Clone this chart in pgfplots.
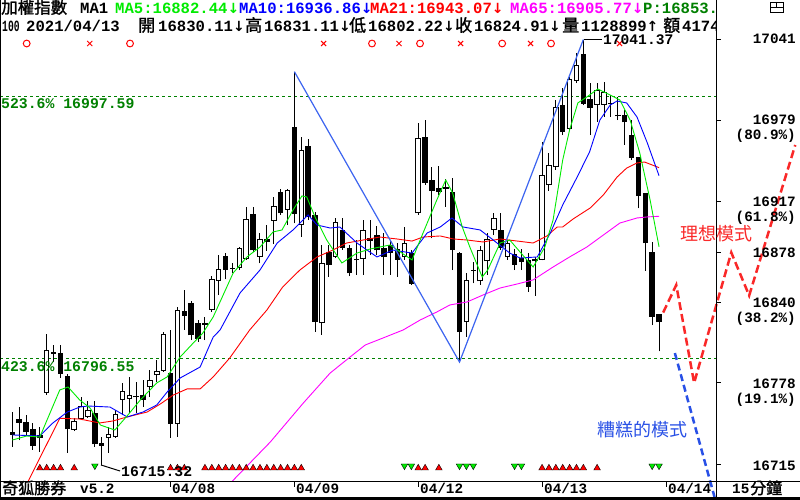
\documentclass[border=0pt]{standalone}
\usepackage{pgfplots}
\usepackage{pgfplotstable}
\pgfplotsset{compat=1.18}
\usepackage{fontspec}
\setmainfont{Liberation Mono}
\newfontfamily\cjk{Noto Sans CJK TC}
\newfontfamily\cjkb{Noto Sans CJK TC}[FakeBold=1.5]
\newfontfamily\arr{DejaVu Sans}

\definecolor{ma5}{RGB}{0,235,0}
\definecolor{ma10}{RGB}{0,0,255}
\definecolor{ma21}{RGB}{255,0,0}
\definecolor{ma65}{RGB}{255,0,255}
\definecolor{fib}{RGB}{0,128,0}
\definecolor{zig}{RGB}{60,100,240}
\definecolor{ideal}{RGB}{250,40,40}
\definecolor{bad}{RGB}{40,80,230}

\newcommand\hdr{\fontsize{15.6}{16}\selectfont\bfseries}
\newcommand\rl{\fontsize{14.3}{15}\selectfont\bfseries}
\newcommand\ar[1]{{\arr\fontsize{14}{16}\selectfont #1}}

% 15-minute candles, index 0..94
\pgfplotstableread{
i o h l c
0 16738.8 16755.9 16729.1 16739.6
1 16750.3 16759.8 16734.2 16748.0
2 16747.3 16753.4 16737.3 16740.5
3 16741.9 16747.3 16726.6 16729.9
4 16735.8 16744.2 16725.0 16737.3
5 16771.0 16815.5 16768.8 16803.2
6 16801.7 16807.1 16794.0 16800.9
7 16800.2 16807.1 16781.8 16785.6
8 16782.8 16784.8 16724.3 16742.7
9 16742.4 16751.1 16741.1 16748.3
10 16750.9 16767.4 16749.6 16759.8
11 16752.1 16764.4 16751.1 16756.7
12 16754.7 16764.4 16728.9 16731.2
13 16730.2 16736.8 16715.32 16731.7
14 16736.3 16744.4 16724.3 16738.6
15 16736.8 16757.3 16735.8 16754.0
16 16765.5 16778.0 16753.4 16771.3
17 16766.2 16782.8 16754.7 16768.7
18 16767.4 16778.9 16754.7 16767.6
19 16768.0 16780.3 16759.8 16765.5
20 16775.6 16787.9 16767.4 16779.5
21 16784.1 16795.6 16778.7 16787.1
22 16787.9 16817.1 16786.4 16814.8
23 16785.4 16818.6 16735.8 16747.0
24 16747.0 16836.5 16736.8 16833.9
25 16832.6 16849.3 16818.6 16830.1
26 16839.1 16840.8 16810.9 16814.8
27 16823.2 16826.3 16809.4 16812.2
28 16823.2 16828.8 16810.9 16823.4
29 16834.5 16860.0 16832.4 16857.5
30 16856.9 16876.1 16845.4 16864.6
31 16875.3 16877.9 16857.5 16865.1
32 16865.9 16869.7 16862.5 16866.1
33 16866.4 16882.5 16864.6 16881.3
34 16873.6 16913.2 16872.3 16903.5
35 16906.8 16913.2 16878.4 16880.0
36 16875.3 16892.7 16869.7 16888.1
37 16888.1 16899.1 16879.4 16886.8
38 16902.9 16920.8 16884.5 16913.2
39 16924.2 16926.5 16906.8 16908.5
40 16911.1 16926.5 16899.1 16925.9
41 16974.0 17016.7 16900.4 16908.1
42 16899.7 16966.8 16890.1 16955.9
43 16959.2 16964.8 16902.9 16905.5
44 16906.0 16909.1 16817.3 16825.0
45 16824.2 16883.8 16814.8 16869.2
46 16878.2 16883.8 16859.5 16868.9
47 16874.8 16904.3 16873.8 16901.2
48 16894.7 16904.3 16880.0 16882.0
49 16880.7 16883.8 16860.0 16862.5
50 16872.3 16887.6 16860.8 16872.5
51 16873.6 16902.9 16860.8 16894.7
52 16887.6 16902.9 16876.1 16888.9
53 16890.9 16898.4 16876.1 16880.0
54 16881.3 16892.7 16860.8 16874.8
55 16883.0 16887.6 16860.8 16877.9
56 16880.5 16885.1 16859.5 16872.8
57 16874.8 16897.8 16872.3 16885.1
58 16876.9 16880.0 16853.1 16854.4
59 16908.5 16977.1 16906.8 16965.6
60 16966.4 16979.6 16929.8 16931.6
61 16932.9 16943.8 16888.9 16925.9
62 16927.3 16944.4 16922.1 16924.7
63 16927.3 16934.2 16913.2 16927.5
64 16924.2 16935.4 16864.6 16880.7
65 16876.9 16878.6 16794.0 16817.3
66 16825.0 16862.3 16813.5 16856.2
67 16864.1 16871.0 16854.4 16864.3
68 16856.2 16883.0 16853.1 16879.2
69 16871.7 16893.2 16860.8 16888.1
70 16895.8 16908.1 16891.4 16904.3
71 16894.7 16908.1 16880.0 16882.0
72 16874.8 16887.6 16872.3 16885.1
73 16876.1 16880.5 16864.6 16868.9
74 16873.6 16880.5 16864.6 16871.0
75 16871.7 16877.4 16848.0 16851.8
76 16871.7 16874.6 16844.7 16872.5
77 16872.8 16963.0 16872.0 16936.7
78 16930.3 16954.1 16925.4 16944.6
79 16943.8 16995.0 16941.3 16989.4
80 16991.1 17003.9 16968.1 16970.7
81 16973.3 17012.8 16972.0 17010.3
82 17009.8 17030.8 17008.0 17021.6
83 17029.5 17041.37 16991.1 16992.4
84 16995.0 17007.8 16968.1 16989.4
85 16991.7 17007.8 16978.3 17002.6
86 16991.7 17009.0 16982.2 17000.6
87 16992.4 16998.8 16982.2 16992.6
88 16982.9 16997.5 16979.6 16983.1
89 16982.7 16987.3 16960.5 16978.3
90 16968.1 16979.6 16948.9 16951.0
91 16950.7 16951.5 16911.9 16921.6
92 16922.9 16923.4 16864.1 16885.5
93 16878.2 16886.3 16822.4 16829.3
94 16830.11 16831.11 16802.22 16824.91
}\candles

\begin{document}
\begin{tikzpicture}[x=1pt,y=1pt]
\fill[white] (0,0) rectangle (800,500);
\begin{axis}[at={(0pt,19pt)}, anchor=south west, scale only axis,
  width=716pt, height=481pt,
  xmin=-1.788, xmax=102.28, ymin=16702.79, ymax=17071.67,
  hide axis, clip=false]

% Fibonacci levels
\addplot[fib, line width=1pt, dash pattern=on 3pt off 3pt, mark=none]
  coordinates {(-1.788,16997.59) (102.28,16997.59)};
\addplot[fib, line width=1pt, dash pattern=on 3pt off 3pt, mark=none]
  coordinates {(-1.788,16796.55) (102.28,16796.55)};

% wicks
\addplot[draw=none, mark=none, error bars/.cd, y dir=plus, y explicit,
  error mark=none, error bar style={draw=black, solid, line width=1pt}]
  table[x=i, y=l, y error plus expr={\thisrow{h}-\thisrow{l}}] {\candles};
% bodies (outline / black)
\addplot[draw=none, mark=none, error bars/.cd, y dir=plus, y explicit,
  error mark=none, error bar style={draw=black, solid, line width=5.5pt}]
  table[x=i, y expr={min(\thisrow{o},\thisrow{c})-0.4},
        y error plus expr={abs(\thisrow{c}-\thisrow{o})+0.8}] {\candles};
% white bodies of rising candles
\addplot[draw=none, mark=none,
  restrict expr to domain={\thisrow{c}-\thisrow{o}}{2:1000},
  error bars/.cd, y dir=plus, y explicit,
  error mark=none, error bar style={draw=white, solid, line width=3.5pt}]
  table[x=i, y expr={\thisrow{o}+0.37},
        y error plus expr={\thisrow{c}-\thisrow{o}-0.74}] {\candles};

% MA65
\addplot[ma65, line width=0.9pt, mark=none] coordinates {
(32.0,16702.8) (37.5,16732.7) (42.3,16762.6) (46.2,16785.6) (49.1,16797.9)
(51.3,16807.1) (53.9,16812.5) (56.8,16818.6) (59.3,16826.3) (61.7,16832.4)
(63.6,16837.8) (66.1,16840.1) (68.4,16845.4) (70.9,16850.8) (73.4,16853.9)
(75.7,16857.0) (78.6,16866.9) (81.0,16874.6) (83.5,16882.2) (85.9,16891.4)
(88.3,16900.6) (90.8,16904.5) (92.3,16905.3) (94.0,16905.8)};
% MA21
\addplot[ma21, line width=0.9pt, mark=none] coordinates {
(2.33,16702.8) (6.9,16750.9) (9.8,16750.3) (12.7,16747.3) (14.6,16748.8)
(16.7,16751.9) (19.6,16755.7) (21.5,16761.8) (23.4,16768.7) (25.4,16773.4)
(27.3,16773.4) (29.2,16782.6) (31.6,16797.1) (34.5,16818.6) (37.0,16833.9)
(39.3,16851.6) (41.8,16864.6) (44.3,16874.6) (46.6,16879.9) (48.6,16885.3)
(51.0,16887.6) (53.4,16889.9) (55.9,16888.4) (58.1,16886.8) (59.7,16889.9)
(62.2,16890.7) (64.1,16888.4) (66.1,16887.6) (68.4,16886.1) (70.9,16888.4)
(73.4,16886.8) (75.7,16885.3) (77.7,16890.7) (79.2,16897.6) (80.0,16897.6)
(81.5,16903.7) (84.0,16912.2) (85.9,16922.1) (87.9,16935.9) (89.3,16942.8)
(90.8,16946.7) (91.9,16947.4) (94.0,16943.1)};
% MA10
\addplot[ma10, line width=0.9pt, mark=none] coordinates {
(0,16738.1) (4.0,16737.3) (5.9,16747.3) (8.0,16755.7) (9.8,16759.5)
(11.0,16760.3) (14.2,16759.5) (16.7,16751.9) (19.0,16755.7) (21.0,16761.1)
(22.5,16771.0) (24.4,16781.8) (27.3,16790.2) (29.2,16813.2) (30.2,16818.6)
(33.1,16847.0) (36.0,16864.6) (38.5,16885.3) (40.8,16895.3) (43.0,16906.8)
(44.3,16899.1) (46.2,16896.8) (47.6,16897.6) (50.1,16885.3) (53.0,16874.6)
(55.3,16879.9) (58.1,16877.6) (60.3,16893.0) (62.2,16897.6) (63.9,16904.5)
(65.5,16897.6) (68.0,16895.3) (69.9,16887.6) (72.3,16877.6) (73.8,16873.8)
(76.3,16874.6) (78.2,16893.0) (80.0,16914.5) (82.1,16935.9) (83.9,16955.1)
(85.4,16979.6) (86.9,16991.1) (87.9,16994.2) (89.3,16992.7) (90.8,16981.9)
(92.3,16962.0) (94.0,16936.9)};
% MA5
\addplot[ma5, line width=0.9pt, mark=none] coordinates {
(0,16734.2) (2.1,16737.3) (4.0,16736.5) (6.9,16772.6) (8.1,16774.9)
(9.8,16764.9) (11.3,16758.8) (12.8,16745.7) (14.9,16741.9) (16.8,16753.4)
(18.6,16764.9) (21.0,16778.0) (22.5,16782.6) (24.4,16797.9) (26.3,16808.6)
(27.7,16816.3) (29.2,16828.6) (32.1,16862.3) (34.1,16874.6) (36.0,16882.2)
(37.9,16893.8) (39.2,16895.3) (40.8,16910.6) (42.1,16921.4) (42.8,16920.6)
(44.0,16905.3) (45.7,16887.6) (47.9,16870.0) (50.1,16877.6) (52.0,16880.7)
(54.9,16883.8) (58.1,16872.3) (59.7,16893.0) (61.7,16918.3) (63.0,16933.6)
(64.0,16923.7) (65.4,16897.6) (66.5,16882.2) (68.3,16859.2) (69.1,16864.6)
(70.9,16885.3) (72.3,16887.6) (74.8,16872.3) (75.7,16866.9) (77.4,16882.2)
(78.6,16903.0) (80.0,16949.0) (81.0,16972.0) (82.2,16992.7) (83.5,16997.3)
(85.1,17003.4) (86.9,16998.8) (88.3,16995.0) (89.8,16979.6) (91.2,16954.3)
(92.7,16918.3) (94.0,16882.4)};

% wave lines
\addplot[zig, line width=1.2pt, mark=none] coordinates {
(41,17016.7) (65,16794.0) (83,17041.37)};
\addplot[ideal, line width=2.5pt, dash pattern=on 8pt off 4pt, mark=none] coordinates {
(94.6,16832.0) (96.5,16853.1) (99.1,16778.0) (104.5,16878.0) (107.1,16845.0) (113.8,16960.5)};
\addplot[bad, line width=2.5pt, dash pattern=on 7pt off 4pt, mark=none] coordinates {
(96.3,16800.9) (102.1,16689.8)};

% signal markers
\addplot[only marks, mark=o, mark size=3.4pt, ma21, mark options={line width=1pt}] coordinates {
(2.09,17038.3) (17.11,17038.3) (52.28,17038.3) (59.26,17038.3) (71.2,17038.3) (78.3,17038.3)};
\addplot[only marks, mark=x, mark size=3.6pt, ma21, mark options={line width=1pt}] coordinates {
(11.26,17038.3) (45.25,17038.3) (56.2,17038.3) (65.16,17038.3) (75.33,17038.3) (88.26,17038.3)};
\addplot[only marks, mark=triangle*, mark size=3.8pt, mark options={fill=red, draw=none}] coordinates {
(4,16712.7) (5,16712.7) (6,16712.7) (7,16712.7) (9,16712.7)
(23,16712.7) (24,16712.7) (25,16712.7)
(28,16712.7) (29,16712.7) (30,16712.7) (31,16712.7) (32,16712.7) (33,16712.7)
(34,16712.7) (35,16712.7) (36,16712.7) (37,16712.7) (38,16712.7) (39,16712.7)
(40,16712.7) (41,16712.7) (42,16712.7)
(59,16712.7) (60,16712.7) (62,16712.7)
(77,16712.7) (78,16712.7) (79,16712.7) (80,16712.7) (81,16712.7) (82,16712.7) (83,16712.7)
(85,16712.7)};
\addplot[only marks, mark=triangle*, mark size=3.8pt, mark options={fill=ma5, draw=none, rotate=180}] coordinates {
(12,16714.4) (57,16714.4) (58,16714.4) (65,16714.4) (66,16714.4) (67,16714.4)
(73,16714.4) (74,16714.4) (93,16714.4) (94,16714.4)};
\end{axis}

% frame and labels, in screen pixels (y downwards)
\begin{scope}[yshift=500pt, y=-1pt]
\draw[line width=1pt] (0.5,0) -- (0.5,500);
\draw[line width=1pt] (716,0) -- (716,500);
\draw[line width=1pt] (0,481.5) -- (800,481.5);
\fill (0,497.5) rectangle (800,500);
\draw[line width=0.8pt] (770,2) rectangle (783,12) (770,7) -- (783,7) (776.5,2) -- (776.5,7);
\foreach \yy in {39.3,120.7,202,253,303,383,465} \draw[line width=1pt] (716,\yy) -- (721,\yy);
\foreach \xx in {170.5,294.4,418.3,542.1,666} \draw[line width=1pt] (\xx,482) -- (\xx,487);

% header
\node[anchor=base west, inner sep=0] at (1,13.5) {\cjkb\fontsize{16.5}{17}\selectfont 加權指數};
\node[anchor=base west, inner sep=0] at (80,13.5) {\hdr MA1};
\node[anchor=base west, inner sep=0, text=ma5] at (115,13.5) {\hdr MA5:16882.44\ar{↓}};
\node[anchor=base west, inner sep=0, text=ma10] at (239,13.5) {\hdr MA10:16936.86\ar{↓}};
\node[anchor=base west, inner sep=0, text=ma21] at (370,13.5) {\hdr MA21:16943.07\ar{↓}};
\node[anchor=base west, inner sep=0, text=ma65] at (510,13.5) {\hdr MA65:16905.77\ar{↓}};
\node[anchor=base west, inner sep=0] at (2,31.5) {\scalebox{0.62}[1]{\hdr 100}};
\node[anchor=base west, inner sep=0] at (26,31.5) {\hdr 2021/04/13};
\node[anchor=base west, inner sep=0] at (138,31.5) {\cjkb\fontsize{17}{17}\selectfont 開};
\node[anchor=base west, inner sep=0] at (158,31.5) {\hdr 16830.11\ar{↓}};
\node[anchor=base west, inner sep=0] at (245,31.5) {\cjkb\fontsize{17}{17}\selectfont 高};
\node[anchor=base west, inner sep=0] at (264,31.5) {\hdr 16831.11\ar{↓}};
\node[anchor=base west, inner sep=0] at (349,31.5) {\cjkb\fontsize{17}{17}\selectfont 低};
\node[anchor=base west, inner sep=0] at (368,31.5) {\hdr 16802.22\ar{↓}};
\node[anchor=base west, inner sep=0] at (455,31.5) {\cjkb\fontsize{17}{17}\selectfont 收};
\node[anchor=base west, inner sep=0] at (474,31.5) {\hdr 16824.91\ar{↓}};
\node[anchor=base west, inner sep=0] at (562,31.5) {\cjkb\fontsize{17}{17}\selectfont 量};
\node[anchor=base west, inner sep=0] at (581,31.5) {\hdr 1128899\ar{↑}};
\node[anchor=base west, inner sep=0] at (663,31.5) {\cjkb\fontsize{17}{17}\selectfont 額};
\begin{scope}
\clip (600,0) rectangle (715.5,36);
\node[anchor=base west, inner sep=0, text=fib] at (643,13.5) {\hdr P:16853.};
\node[anchor=base west, inner sep=0] at (682,31.5) {\hdr 41742};
\end{scope}

% level labels
\node[anchor=base west, inner sep=0, text=fib] at (1,108.5) {\fontsize{14.8}{15}\selectfont\bfseries 523.6\% 16997.59};
\node[anchor=base west, inner sep=0, text=fib] at (1,372) {\fontsize{14.8}{15}\selectfont\bfseries 423.6\% 16796.55};
\draw[line width=1pt] (584,39.3) -- (602,39.3);
\node[anchor=base west, inner sep=0] at (603,45) {\fontsize{14.6}{15}\selectfont\bfseries 17041.37};
\draw[line width=1pt] (101,465) -- (120,471);
\node[anchor=base west, inner sep=0] at (121,477) {\fontsize{14.8}{15}\selectfont\bfseries 16715.32};

% right scale
\node[anchor=base east, inner sep=0] at (796,44) {\rl 17041};
\node[anchor=base east, inner sep=0] at (796,125) {\rl 16979};
\node[anchor=base east, inner sep=0] at (796,140) {\rl (80.9\%)};
\node[anchor=base east, inner sep=0] at (796,206.5) {\rl 16917};
\node[anchor=base east, inner sep=0] at (796,221.5) {\rl (61.8\%)};
\node[anchor=base east, inner sep=0] at (796,258) {\rl 16878};
\node[anchor=base east, inner sep=0] at (796,308) {\rl 16840};
\node[anchor=base east, inner sep=0] at (796,323) {\rl (38.2\%)};
\node[anchor=base east, inner sep=0] at (796,389) {\rl 16778};
\node[anchor=base east, inner sep=0] at (796,404) {\rl (19.1\%)};
\node[anchor=base east, inner sep=0] at (796,470.5) {\rl 16715};

% pattern names
\node[inner sep=0, text=ideal] at (716,234) {\cjk\fontsize{18}{18}\selectfont 理想模式};
\node[inner sep=0, text=bad] at (642.5,430) {\cjk\fontsize{18}{18}\selectfont 糟糕的模式};

% bottom strip
\node[anchor=base west, inner sep=0] at (2,494) {\cjkb\fontsize{16}{16}\selectfont 奇狐勝券};
\node[anchor=base west, inner sep=0] at (80,494) {\rl v5.2};
\foreach \xx/\dd in {172/04\slash 08,296/04\slash 09,420/04\slash 12,544/04\slash 13,668/04\slash 14}
  \node[anchor=base west, inner sep=0] at (\xx,494) {\rl \dd};
\node[anchor=base west, inner sep=0] at (732,494) {\rl 15};
\node[anchor=base west, inner sep=0] at (750,494) {\cjkb\fontsize{16}{16}\selectfont 分鐘};
\end{scope}
\pgfresetboundingbox
\path[use as bounding box] (0,0) rectangle (800,500);
\end{tikzpicture}
\end{document}
